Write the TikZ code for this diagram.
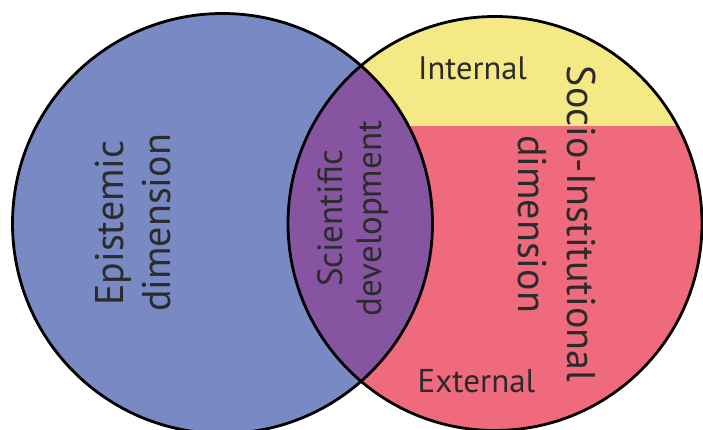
\documentclass[tikz,border=0pt]{standalone}
\usepackage{fontspec}
\setmainfont{PT Sans}
\definecolor{epiblue}{HTML}{7889C3}
\definecolor{lenspurple}{HTML}{8654A0}
\definecolor{intyellow}{HTML}{F4E985}
\definecolor{extred}{HTML}{EF6A7D}
\definecolor{txt}{HTML}{2B2B2B}
\begin{document}
\begin{tikzpicture}[x=1pt,y=-1pt,
  lbl/.style={text=txt, align=center, inner sep=0pt},
  rim/.style={draw=black, line width=2.8pt}]
\useasboundingbox (0,0) rectangle (703,430);
\fill[white] (0,0) rectangle (703,430);
\coordinate (L) at (222.5,223.5);
\coordinate (R) at (495,223.5);
\fill[epiblue] (L) circle[radius=210];
\begin{scope}
  \clip (R) circle[radius=207];
  \fill[intyellow] (280,0) rectangle (710,126);
  \fill[extred] (280,126) rectangle (710,440);
  \clip (L) circle[radius=210];
  \fill[lenspurple] (R) circle[radius=207];
\end{scope}
\draw[rim] (L) circle[radius=210];
\draw[rim] (R) circle[radius=207];
\node[lbl, rotate=90, font=\fontsize{40}{47}\selectfont] (epi) at (133,223) {Epistemic\\dimension};
\node[lbl, rotate=90, font=\fontsize{35}{39}\selectfont] (sci) at (353,218.5) {Scientific\\development};
\node[lbl, rotate=-90, font=\fontsize{40}{49}\selectfont] (soc) at (557,224) {Socio-Institutional\\dimension};
\node[lbl, anchor=base, font=\fontsize{32.5}{38}\selectfont] (int) at (472.5,80) {Internal};
\node[lbl, anchor=base, font=\fontsize{33}{38}\selectfont] (ext) at (476.5,392) {External};
\end{tikzpicture}
\end{document}
